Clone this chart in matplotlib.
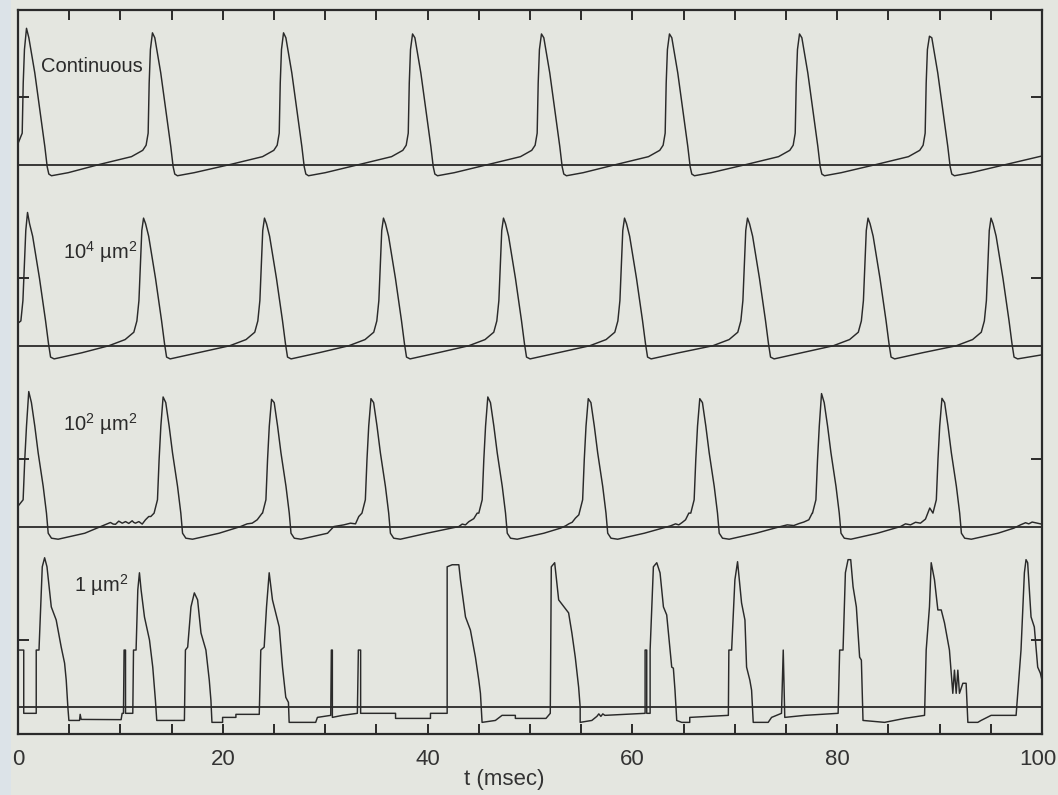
import numpy as np
import matplotlib
matplotlib.use("Agg")
import matplotlib.pyplot as plt
from matplotlib.patches import Rectangle
from matplotlib.transforms import ScaledTranslation

PAPER = "#e4e6e0"
EDGE = "#dce3e8"
INK = "#2a2a2a"

plt.rcParams.update({
    "font.family": ["Liberation Sans", "DejaVu Sans"],
    "mathtext.fontset": "custom",
    "mathtext.rm": "Liberation Sans",
    "mathtext.it": "Liberation Sans:italic",
    "mathtext.bf": "Liberation Sans:bold",
    "axes.linewidth": 1.6,
})

REST = -60.0     # reference level drawn under every trace (mV)
STEP = 160.0     # vertical offset between stacked traces (mV)

# ---- continuous membrane -------------------------------------------------
cont_peak_t = [0.83, 13.13, 25.93, 38.53, 51.12, 63.62, 76.32, 89.01]
cont_peak_v = [61, 57, 57, 56, 56, 56, 56, 54]
cont_rise = [(-5.14, -59.4), (-2.05, -52.6), (-0.95, -47.0), (-0.62, -42.5),
             (-0.42, -31.8), (-0.32, 12.6), (-0.20, 42.2)]
cont_fall = [(0.23, 52.6), (0.81, 21.5), (1.30, -11.1), (1.79, -43.7),
             (2.02, -61.5), (2.18, -68.0), (2.44, -69.5), (4.07, -66.8)]
cont_start = (0.0, -41.0)
cont_end = (100.0, -52.0)

# ---- 10^4 um^2 patch -----------------------------------------------------
p4_peak_t = [0.93, 12.26, 24.07, 35.69, 47.41, 59.23, 71.24, 83.01, 95.02]
p4_peak_v = [58, 53, 53, 53, 53, 53, 53, 53, 53]
p4_rise = [(-3.40, -60.0), (-1.80, -54.5), (-0.95, -48.0), (-0.65, -38.0),
           (-0.45, -20.0), (-0.30, 12.0), (-0.17, 42.0)]
p4_fall = [(0.20, 48.0), (0.50, 37.0), (1.17, -0.4), (1.76, -37.8),
           (2.05, -58.2), (2.25, -70.0), (2.60, -71.6), (5.30, -66.2)]
p4_start = (0.0, -40.0)
p4_end = (100.0, -68.0)

# ---- 10^2 um^2 patch -----------------------------------------------------
p2_peak_t = [1.05, 14.17, 24.76, 34.47, 45.88, 55.69, 66.58, 78.47, 90.23]
p2_peak_v = [59.5, 54.7, 52.6, 53.2, 54.7, 53.2, 53.2, 57.7, 53.5]
p2_rise = [(-2.67, -58.5), (-2.01, -57.0), (-1.20, -51.1), (-0.88, -48.1),
           (-0.55, -36.3), (-0.39, -0.7), (-0.22, 28.9)]
p2_fall = [(0.26, 49.7), (0.59, 28.9), (0.92, 5.2), (1.41, -24.4),
           (1.73, -48.1), (1.90, -65.9), (2.22, -70.3), (2.87, -71.2),
           (5.47, -65.9)]
p2_start = (0.0, -42.0)
# channel flicker before threshold
p2_noise = [
    ([8.06, 8.40, 8.71, 9.03, 9.30, 9.52, 9.84, 10.18, 10.40, 10.50, 10.82,
      11.15, 11.30, 11.47, 11.80, 12.13, 12.45, 12.77],
     [-60.0, -58.6, -57.6, -56.4, -57.8, -58.0, -55.2, -57.0, -56.1, -55.6,
      -57.2, -54.9, -56.3, -57.0, -55.6, -57.8, -54.0, -51.1]),
    ([21.73, 22.38, 22.87, 23.36, 23.85],
     [-60.0, -57.6, -57.0, -54.0, -48.1]),
    ([30.84, 31.82, 32.47, 32.96, 33.28],
     [-60.0, -58.5, -57.0, -57.6, -51.1]),
    ([43.05, 43.38, 43.70, 44.02, 44.51, 44.84],
     [-60.0, -57.8, -58.5, -55.7, -53.0, -48.1]),
    ([52.98, 53.47, 53.79, 54.12, 54.44, 54.77],
     [-61.4, -59.4, -57.6, -56.2, -52.5, -49.6]),
    ([63.72, 64.21, 64.53, 64.86, 65.19, 65.51],
     [-59.4, -57.6, -58.5, -56.4, -54.0, -48.1]),
    ([74.46, 75.12, 75.76, 76.25, 76.74, 77.23, 77.56],
     [-60.0, -58.5, -59.1, -57.4, -56.0, -54.0, -48.1]),
    ([86.18, 86.67, 87.16, 87.65, 88.13, 88.62, 89.04],
     [-60.0, -57.6, -58.5, -56.2, -57.0, -53.4, -43.6]),
    ([97.25, 97.90, 98.39, 98.71, 99.04, 99.53, 100.0],
     [-61.4, -58.5, -56.6, -57.6, -56.0, -57.0, -57.9]),
]

# ---- 1 um^2 patch (single-channel steps) ---------------------------------
p1_t = [0.0, 0.56, 0.56, 1.78, 1.78, 2.05, 2.37, 2.60, 2.83, 3.25, 3.73, 4.22,
        4.55, 4.71, 4.87, 4.97, 6.01, 6.07, 6.17, 10.07, 10.17, 10.30, 10.36,
        10.50, 10.50, 11.21, 11.28, 11.53, 11.70, 11.86, 12.02, 12.35, 12.84,
        13.16, 13.42, 13.55, 16.25, 16.35, 16.57, 16.89, 17.22, 17.54, 17.87,
        18.35, 18.68, 18.84, 18.94, 19.98, 19.98, 21.28, 21.28, 23.56, 23.71,
        24.04, 24.27, 24.53, 24.85, 25.51, 25.83, 26.15, 26.41, 26.48, 29.07,
        29.24, 30.54, 30.60, 30.70, 30.70, 31.68, 33.14, 33.24, 33.46, 33.46,
        36.87, 36.87, 40.28, 40.28, 41.91, 41.91, 42.40, 43.05, 43.21, 43.70,
        44.18, 44.67, 45.00, 45.16, 45.32, 46.62, 47.27, 48.57, 48.57, 51.56,
        51.98, 52.08, 52.41, 52.80, 53.77, 54.09, 54.42, 54.75, 54.90, 54.90,
        56.04, 56.53, 56.72, 56.92, 57.11, 57.31, 61.24, 61.24, 61.40, 61.40,
        61.73, 61.73, 62.05, 62.38, 62.70, 63.03, 63.35, 63.84, 64.00, 64.16,
        64.33, 64.81, 65.60, 65.60, 69.37, 69.42, 69.69, 70.01, 70.27, 70.66,
        70.99, 71.15, 71.47, 71.64, 71.80, 73.26, 73.59, 74.56, 74.73, 74.88,
        76.83, 80.09, 80.24, 80.57, 80.80, 81.06, 81.32, 81.55, 81.87, 82.19,
        82.36, 82.52, 84.63, 86.58, 87.23, 88.53, 88.69, 89.01, 89.18, 89.50,
        89.83, 90.16, 90.48, 90.96, 91.29, 91.45, 91.62, 91.78, 91.94, 92.27,
        92.59, 92.76, 93.73, 94.05, 95.03, 97.47, 97.95, 98.28, 98.44, 98.60,
        98.93, 99.25, 99.58, 99.84, 100.0]
p1_v = [-9.3, -9.3, -65.3, -65.3, -9.3, -9.3, 64.4, 72.4, 64.4, 28.9, 17.3,
        -6.7, -20.9, -36.0, -60.0, -71.6, -71.6, -66.2, -70.7, -70.9, -65.3,
        -65.3, -9.3, -9.3, -65.3, -65.3, -9.3, -9.3, 44.0, 59.1, 44.0, 20.0,
        -0.4, -24.4, -53.8, -71.6, -71.6, -9.3, -6.7, 28.9, 41.3, 35.1, 5.8,
        -9.3, -36.0, -53.8, -73.3, -73.3, -68.9, -68.9, -66.2, -66.2, -9.3,
        -6.7, 28.9, 59.1, 35.1, 11.1, -24.4, -51.1, -55.6, -73.3, -73.3,
        -68.9, -67.1, -9.3, -9.3, -68.9, -67.1, -65.3, -9.3, -9.3, -65.3,
        -65.3, -69.8, -69.8, -65.3, -65.3, 64.4, 66.2, 66.2, 52.9, 20.0, 8.4,
        -15.6, -36.0, -47.6, -73.3, -71.6, -67.1, -67.1, -69.8, -69.8, -65.3,
        64.4, 68.0, 35.1, 23.6, 5.8, -15.6, -42.2, -60.0, -73.3, -71.6, -68.0,
        -65.8, -68.0, -65.8, -67.1, -65.3, -9.3, -9.3, -65.3, -65.3, -9.3,
        64.4, 68.0, 59.0, 28.9, 21.8, -24.4, -25.3, -44.9, -71.6, -73.3,
        -73.3, -68.9, -67.1, -9.3, -9.3, 52.9, 68.9, 32.4, 17.3, -24.4, -36.0,
        -44.9, -73.3, -73.3, -68.9, -65.3, -9.3, -68.9, -67.1, -65.3, -9.3,
        -9.3, 59.1, 70.7, 70.7, 46.7, 28.9, -15.6, -18.2, -71.6, -73.3, -69.8,
        -68.9, -67.1, -9.3, 28.9, 68.0, 52.9, 26.2, 26.2, 14.7, -9.3, -47.6,
        -27.1, -47.6, -27.1, -47.6, -38.7, -38.7, -73.3, -73.3, -71.6, -67.1,
        -67.1, -9.3, 59.1, 70.7, 68.0, 20.0, 11.1, -24.4, -29.8, -36.0]

labels = ["Continuous", "10$^{4}$ µm$^{2}$", "10$^{2}$ µm$^{2}$", "1 µm$^{2}$"]
label_xy = [(2.2, 22.6), (4.4, 16.7), (4.4, 24.7), (5.5, 42.3)]


def spike_train(peak_t, peak_v, rise, fall, start, end=None, noise=()):
    """Lay one spike waveform at every peak and join them into a trace."""
    t0, v0 = start
    pts = [start]
    for i, (tp, vp) in enumerate(zip(peak_t, peak_v)):
        for dt, v in rise:
            if tp + dt <= t0 or (i == 0 and v < v0):
                continue
            pts.append((tp + dt, v))
        pts.append((tp, vp))
        pts.extend((tp + dt, v) for dt, v in fall)
    if end is not None:
        pts.append(end)
    for seg_t, seg_v in noise:
        lo, hi = seg_t[0], seg_t[-1]
        pts = [p for p in pts if not lo <= p[0] <= hi]
        pts.extend(zip(seg_t, seg_v))
    pts.sort()
    t, v = np.array(pts).T
    return t, v


traces = [
    spike_train(cont_peak_t, cont_peak_v, cont_rise, cont_fall, cont_start, cont_end),
    spike_train(p4_peak_t, p4_peak_v, p4_rise, p4_fall, p4_start, p4_end),
    spike_train(p2_peak_t, p2_peak_v, p2_rise, p2_fall, p2_start, noise=p2_noise),
    (np.array(p1_t), np.array(p1_v)),
]

W, H = 1058, 795
fig = plt.figure(figsize=(W / 100, H / 100), dpi=100, facecolor=PAPER)
fig.patches.append(Rectangle((0, 0), 11 / W, 1, transform=fig.transFigure,
                             facecolor=EDGE, edgecolor="none", zorder=0))
ax = fig.add_axes([18 / W, 1 - 734 / H, (1042 - 18) / W, (734 - 10) / H])
ax.set_facecolor(PAPER)

for k, (t, v) in enumerate(traces):
    off = -STEP * k
    ax.axhline(REST + off, color=INK, lw=1.3, zorder=2)
    ax.plot(t, v + off, color=INK, lw=1.05, zorder=3)
    lx, ly = label_xy[k]
    ax.text(lx, ly + off, labels[k], fontsize=14.5, color=INK,
            ha="left", va="baseline")

ax.set_xlim(0, 100)
ax.set_ylim(-563.6, 77.2)

ax.set_xticks(np.arange(0, 101, 20))
ax.set_xticks(np.arange(0, 101, 5), minor=True)
ax.tick_params(axis="x", which="both", direction="in", top=True, length=7,
               width=1.4, color=INK, labelsize=16, labelcolor="#333333", pad=10.5)
ax.set_yticks([-STEP * k for k in range(4)])
ax.tick_params(axis="y", direction="in", left=True, right=True, length=8,
               width=1.4, color=INK, labelleft=False)
for s in ax.spines.values():
    s.set_color(INK)

# keep the "100" inside the page
last = ax.xaxis.get_major_ticks()[-1].label1
last.set_transform(last.get_transform()
                   + ScaledTranslation(-3 / 72, 0, fig.dpi_scale_trans))

ax.set_xlabel("t (msec)", fontsize=16, color="#333333")
ax.xaxis.set_label_coords(0.4746, -0.048)

fig.savefig("out.png", dpi=100, facecolor=PAPER)
